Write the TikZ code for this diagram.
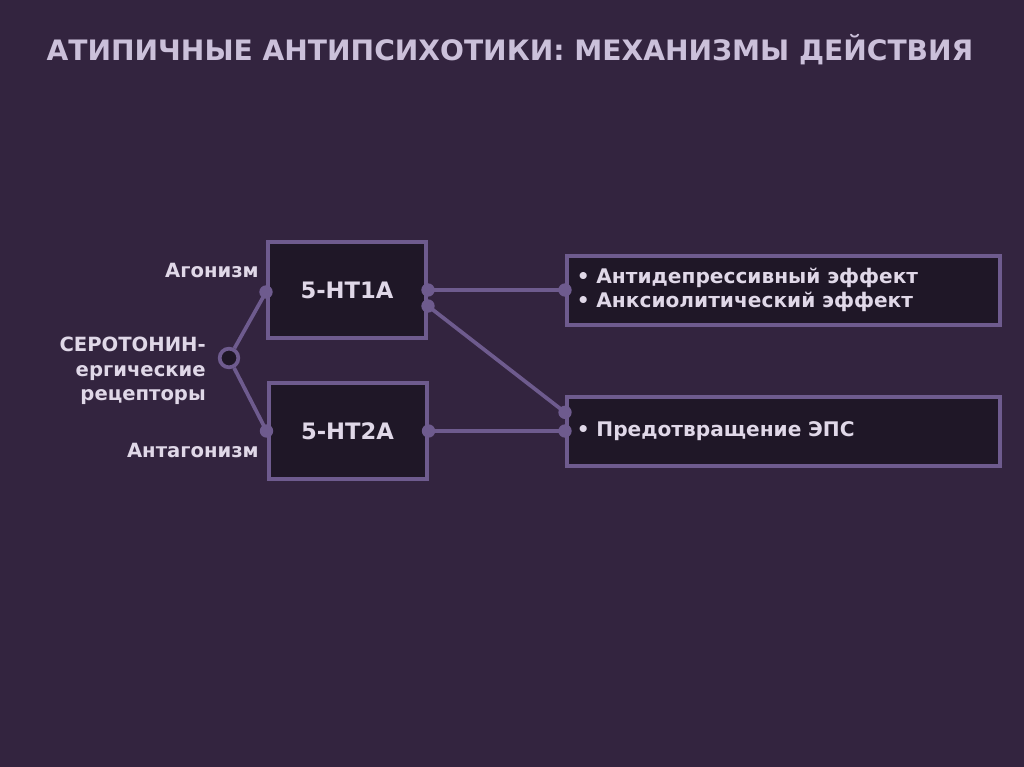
\documentclass[tikz,border=0pt]{standalone}
\usepackage{fontspec}
\setmainfont{DejaVu Sans}
\usepackage{xcolor}
\usepackage{tikz}
\usetikzlibrary{positioning}

\definecolor{bgviolet}{HTML}{33243F}
\definecolor{boxdark}{HTML}{1F1727}
\definecolor{edgeviolet}{HTML}{6E5B8E}
\definecolor{textlav}{HTML}{E0D8E8}
\definecolor{titlelav}{HTML}{CBC0DA}

\begin{document}
\begin{tikzpicture}[
    x=0.75pt, y=-0.75pt,
    every node/.style={text=textlav, font=\bfseries},
    receptor/.style={
        draw=edgeviolet, line width=3pt, fill=boxdark,
        minimum width=118.5pt, minimum height=71.5pt,
        font=\bfseries\fontsize{17}{20}\selectfont
    },
    effectbox/.style={
        draw=edgeviolet, line width=3pt, fill=boxdark,
        minimum width=324.75pt, minimum height=51.75pt,
        text width=310pt, align=left, inner xsep=7pt,
        font=\bfseries\fontsize{15.1}{17.8}\selectfont
    },
    lbl/.style={font=\bfseries\fontsize{14.7}{18.4}\selectfont, inner sep=0pt},
    link/.style={draw=edgeviolet, line width=2.8pt},
    joint/.style={fill=edgeviolet, circle, inner sep=0pt, minimum size=10pt}
]
% фон и рамка картинки
\fill[bgviolet] (0,0) rectangle (1024,767);
\useasboundingbox (0,0) rectangle (1024,767);

% заголовок
\node[text=titlelav, font=\bfseries\fontsize{21.1}{24}\selectfont] (title) at (510,50)
    {АТИПИЧНЫЕ АНТИПСИХОТИКИ: МЕХАНИЗМЫ ДЕЙСТВИЯ};

% рецепторы
\node[receptor] (ht1) at (347,290) {5-HT1A};
\node[receptor] (ht2) at (347.5,431) {5-HT2A};

% эффекты
\node[effectbox] (eff1) at (783.5,290)
    {• Антидепрессивный эффект\\• Анксиолитический эффект};
\node[effectbox] (eff2) at (783.5,431) {• Предотвращение ЭПС};

% подписи слева
\node[lbl, anchor=east] (agon) at (259,270) {Агонизм};
\node[lbl, anchor=east] (antag) at (259,450) {Антагонизм};
\node[lbl, anchor=east, align=right] (sero) at (206,371)
    {СЕРОТОНИН-\\ергические\\рецепторы};

% узел разветвления
\node[circle, draw=edgeviolet, line width=2.8pt, fill=boxdark,
      minimum size=14pt, inner sep=0pt] (hub) at (229,358) {};

% точки на рамках
\coordinate (ht1in) at ([yshift=-1.5pt]ht1.west);
\coordinate (ht2in) at (ht2.west);
\coordinate (ht1out) at (ht1.east);
\coordinate (ht1low) at ([yshift=-12pt]ht1.east);
\coordinate (ht2out) at (ht2.east);
\coordinate (eff1in) at (eff1.west);
\coordinate (eff2up) at ([yshift=14pt]eff2.west);
\coordinate (eff2in) at (eff2.west);

% связи
\draw[link] (hub) -- (ht1in);
\draw[link] (hub) -- (ht2in);
\draw[link] (ht1out) -- (eff1in);
\draw[link] (ht1low) -- (eff2up);
\draw[link] (ht2out) -- (eff2in);

\foreach \p in {ht1in,ht2in,ht1out,ht1low,ht2out,eff1in,eff2up,eff2in}
    \node[joint] at (\p) {};

\end{tikzpicture}
\end{document}
